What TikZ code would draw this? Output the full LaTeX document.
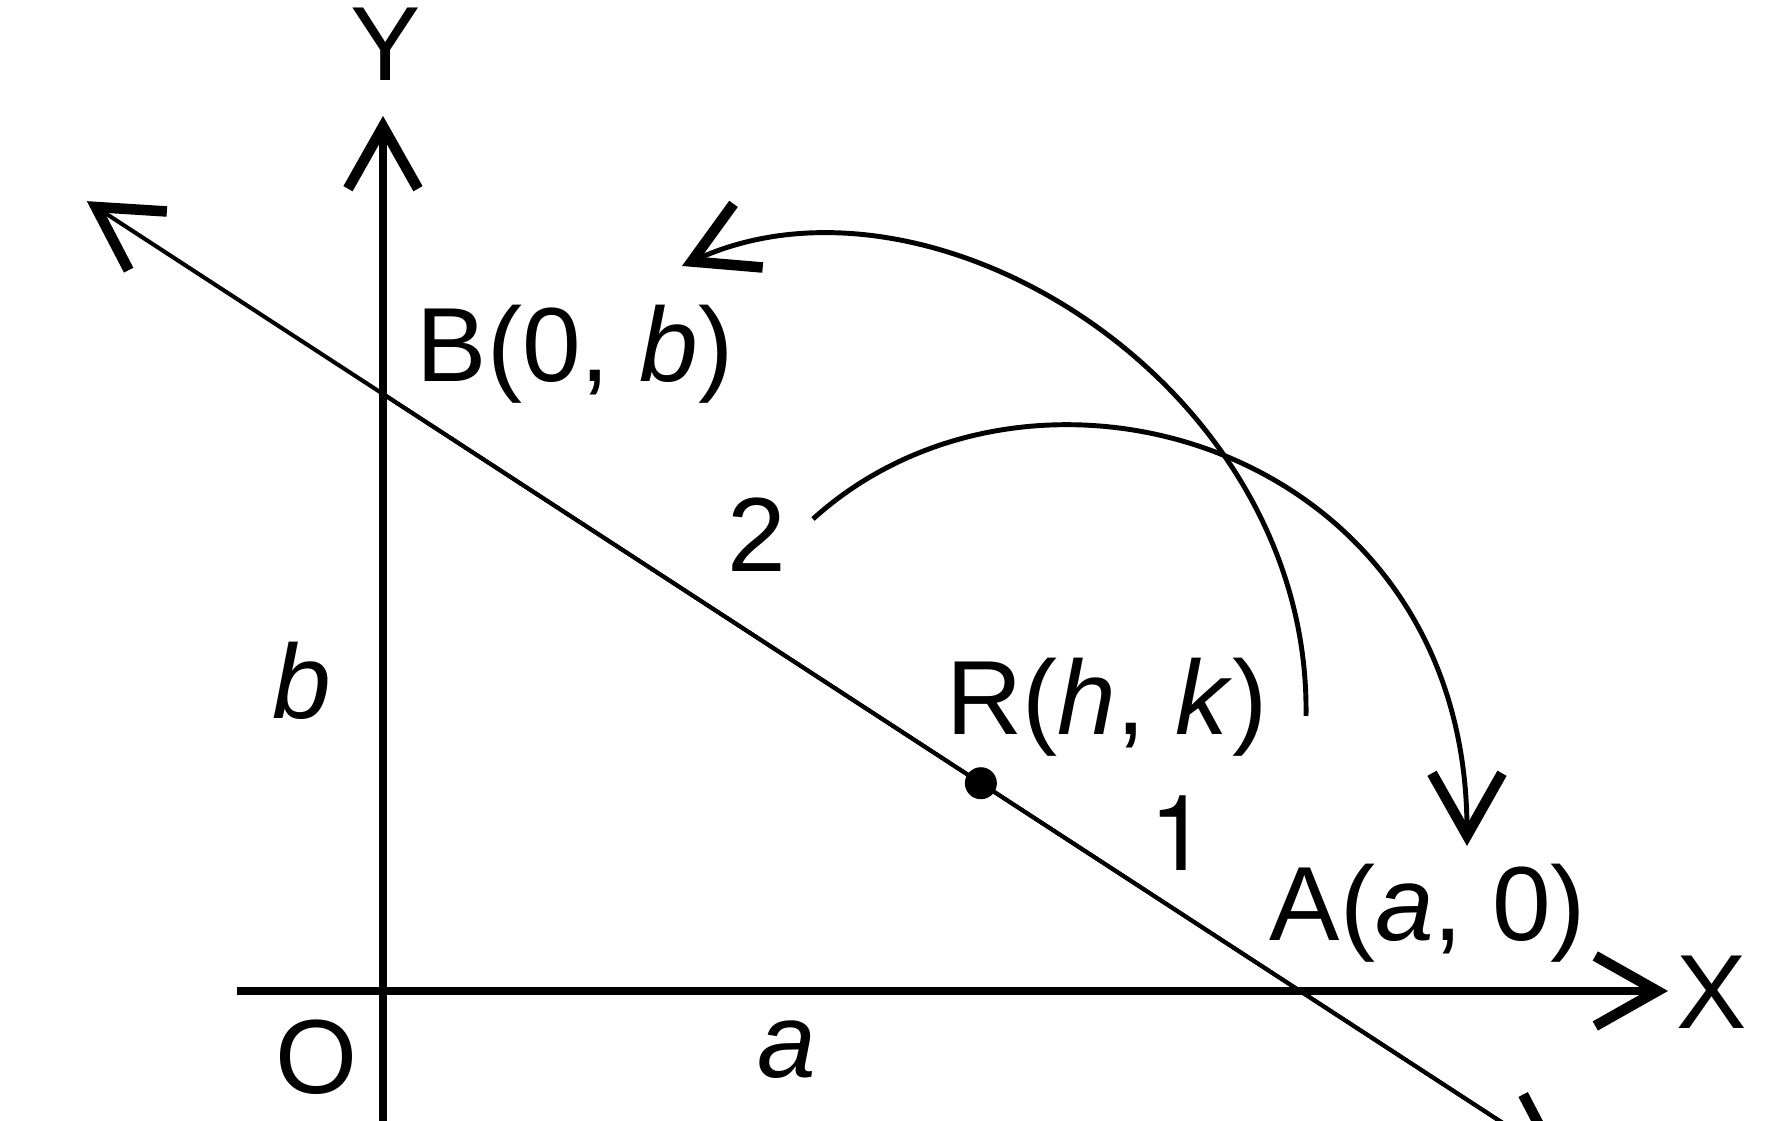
\documentclass[tikz,border=0pt]{standalone}
\usepackage{fontspec}
\setmainfont{Liberation Sans}
\newfontfamily\heros{TeX Gyre Heros}
\usetikzlibrary{arrows.meta,calc}

\tikzset{
	barb/.style={-{Straight Barb[length=0.62cm,width=0.70cm,line width=3pt]}},
	axis/.style={line width=2.3pt, barb},
	turn/.style={line width=1.4pt, barb},
	lbl/.style={inner sep=0pt, anchor=base}
}

\begin{document}
\begin{tikzpicture}[font=\fontsize{30}{36}\selectfont]
\clip (-3.83,-1.30) rectangle (14.03,9.91);

\pgfmathsetmacro{\xA}{9.17}
\pgfmathsetmacro{\yB}{5.97}

\coordinate (O) at (0,0);
\coordinate (A) at (\xA,0);
\coordinate (B) at (0,\yB);
\coordinate (R) at ($(B)!0.652!(A)$);
\coordinate (xl) at (-1.46,0);
\coordinate (xr) at (12.85,0);
\coordinate (yb) at (0,-1.40);
\coordinate (yt) at (0,8.75);
\coordinate (s1) at (9.23,2.75);
\coordinate (t1) at (10.84,1.45);
\coordinate (s2) at (4.30,4.72);
\coordinate (t2) at (2.99,7.25);

\draw[axis] (xl) -- (xr);
\draw[axis] (yb) -- (yt);
\draw[line width=1.15pt, barb] ($(B)!1.289!(A)$) -- ($(B)!-0.323!(A)$);
\draw[line width=1.15pt, barb] (B) -- ($(B)!1.289!(A)$);
\fill (R) circle (0.16);

\draw[turn] (s2) .. controls (6.52,6.73) and (10.84,5.45) .. (t1);
\draw[turn] (s1) .. controls (9.28,6.05) and (5.50,8.40) .. (t2);

\node[lbl] (Xlbl) at (13.29,-0.38) {X};
\node[lbl] (Ylbl) at (0.03,9.10) {Y};
\node[lbl] (Olbl) at (-0.66,-1.03) {O};
\node[lbl] (albl) at (4.04,-0.87) {\textit{a}};
\node[lbl] (blbl) at (-0.81,2.72) {\textit{b}};
\node[lbl, anchor=base west] (Blbl) at (0.33,6.09) {B(0, \textit{b})};
\node[lbl, anchor=base west] (Rlbl) at (5.63,2.56) {R(\textit{h}, \textit{k})};
\node[lbl, anchor=base west] (Albl) at (8.86,0.50) {A(\textit{a}, 0)};
\node[lbl] (one) at (7.96,1.20) {\heros 1};
\node[lbl] (two) at (3.74,4.19) {2};
\end{tikzpicture}
\end{document}
